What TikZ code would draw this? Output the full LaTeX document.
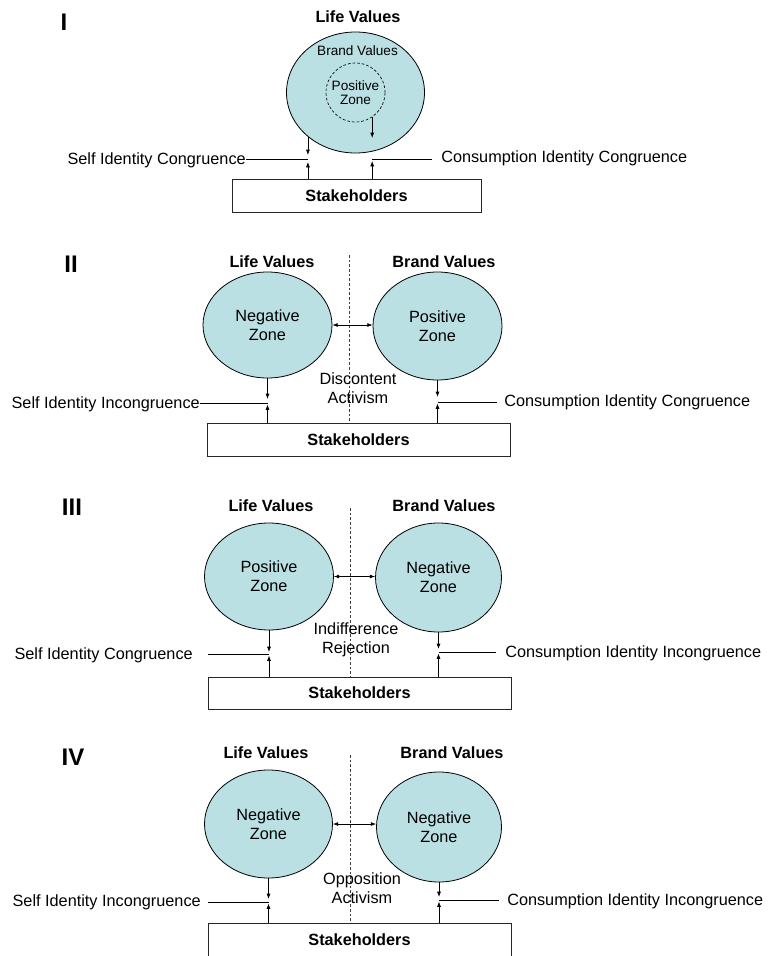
\documentclass[tikz,border=0pt]{standalone}
\usepackage{fontspec}
\setmainfont{Liberation Sans}
\usetikzlibrary{shapes.geometric,arrows.meta,calc}
\definecolor{zonefill}{RGB}{186,224,227}
\newcommand\pxl{0.75pt}
\begin{document}
\begin{tikzpicture}[x=0.75pt,y=-0.75pt,
  lab/.style={font=\fontsize{12.2}{14.4}\selectfont, inner sep=0pt, text height=8.7pt, text depth=0pt},
  small/.style={font=\fontsize{10.2}{10}\selectfont, inner sep=0pt, text height=7.3pt, text depth=0pt},
  hdr/.style={font=\bfseries\fontsize{12.2}{14.4}\selectfont, inner sep=0pt, text height=8.7pt, text depth=0pt},
  num/.style={font=\bfseries\fontsize{18}{20}\selectfont, inner sep=0pt, text height=12.9pt, text depth=0pt},
  two/.style={font=\fontsize{12.2}{14.4}\selectfont, align=center, inner sep=0pt},
  zone/.style={ellipse, draw=black, line width=0.6pt, fill=zonefill, inner sep=0pt, font=\fontsize{12.2}{14.4}\selectfont, align=center},
  box/.style={draw=black!85, line width=0.6pt, inner sep=0pt, font=\bfseries\fontsize{12.2}{14.4}\selectfont},
  arr/.style={-{Latex[length=4pt,width=3pt]}, line width=0.5pt},
  darr/.style={{Latex[length=4pt,width=3pt]}-{Latex[length=4pt,width=3pt]}, line width=0.5pt},
  ln/.style={line width=0.5pt},
  divider/.style={line width=0.5pt, dash pattern=on 2pt off 1.5pt, black!75}
]
\useasboundingbox (0,0) rectangle (767,956);

% ---------------- Panel I ----------------
\node[num] (n1) at (64,22) {I};
\node[hdr] (lv1) at (358,17) {Life Values};
\node[zone, minimum width=138*\pxl, minimum height=121*\pxl] (E1) at (355.5,92.5) {};
\node[small] (bv1) at (357.5,51) {Brand Values};
\node[circle, draw=black, line width=0.5pt, dash pattern=on 2pt off 1.5pt, minimum size=59*\pxl,
      inner sep=0pt, align=center, font=\fontsize{10.2}{10}\selectfont] (P1) at (355.5,92.5) {Positive\\Zone};
\node[box, minimum width=249*\pxl, minimum height=33*\pxl] (B1) at (356.5,195.5) {Stakeholders};
\coordinate (a1l) at (0,155);
\coordinate (u1l) at (0,162);
\coordinate (a1r) at (0,138);
\coordinate (u1r) at (0,161);
\draw[arr] (E1.223) -- (E1.223 |- a1l);
\draw[arr] (B1.north -| E1.223) -- (E1.223 |- u1l);
\draw[arr] (P1.-56) -- (P1.-56 |- a1r);
\draw[arr] (B1.north -| P1.-56) -- (P1.-56 |- u1r);
\node[lab, anchor=east] (s1) at (246,159) {Self Identity Congruence};
\draw[ln] (s1.east) -- (s1.east -| E1.223);
\node[lab, anchor=west] (c1) at (441,157) {Consumption Identity Congruence};
\coordinate (c1e) at (432,159);
\draw[ln] (c1e) -- (c1e -| P1.-56);

% ---------------- Panel II ----------------
\node[num] (n2) at (71,264) {II};
\node[hdr] (lv2) at (272,262) {Life Values};
\node[hdr] (bv2) at (444,262) {Brand Values};
\node[zone, minimum width=129*\pxl, minimum height=106*\pxl] (L2) at (267.5,325) {Negative\\Zone};
\node[zone, minimum width=129*\pxl, minimum height=108*\pxl] (R2) at (437.5,326) {Positive\\Zone};
\node[box, minimum width=303*\pxl, minimum height=33*\pxl] (B2) at (358.5,439.5) {Stakeholders};
\coordinate (d2t) at (349,255);
\draw[divider] (d2t) -- (d2t |- B2.north);
\draw[darr] (L2.east) -- (L2.east -| R2.west);
\node[two] (m2) at (358,388) {Discontent\\Activism};
\coordinate (a2l) at (0,399);
\coordinate (u2l) at (0,404.5);
\coordinate (a2r) at (0,397);
\coordinate (u2r) at (0,403.5);
\draw[arr] (L2.south) -- (L2.south |- a2l);
\draw[arr] (B2.north -| L2.south) -- (L2.south |- u2l);
\draw[arr] (R2.south) -- (R2.south |- a2r);
\draw[arr] (B2.north -| R2.south) -- (R2.south |- u2r);
\node[lab, anchor=east] (s2) at (200,403) {Self Identity Incongruence};
\draw[ln] (s2.east) -- (s2.east -| L2.south);
\node[lab, anchor=west] (c2) at (504,401) {Consumption Identity Congruence};
\coordinate (c2e) at (497,402);
\draw[ln] (c2e) -- (c2e -| R2.south);

% ---------------- Panel III ----------------
\node[num] (n3) at (72,507) {III};
\node[hdr] (lv3) at (271,506) {Life Values};
\node[hdr] (bv3) at (444,506) {Brand Values};
\node[zone, minimum width=129*\pxl, minimum height=107*\pxl] (L3) at (269,576.5) {Positive\\Zone};
\node[zone, minimum width=126*\pxl, minimum height=109*\pxl] (R3) at (438.5,577.5) {Negative\\Zone};
\node[box, minimum width=303*\pxl, minimum height=32*\pxl] (B3) at (359.5,693) {Stakeholders};
\coordinate (d3t) at (350,508);
\draw[divider] (d3t) -- (d3t |- B3.north);
\draw[darr] (L3.east) -- (L3.east -| R3.west);
\node[two] (m3) at (356,640) {Indifference\\Rejection};
\coordinate (a3l) at (0,652);
\coordinate (u3l) at (0,655.5);
\coordinate (a3r) at (0,649);
\coordinate (u3r) at (0,653.5);
\draw[arr] (L3.south) -- (L3.south |- a3l);
\draw[arr] (B3.north -| L3.south) -- (L3.south |- u3l);
\draw[arr] (R3.south) -- (R3.south |- a3r);
\draw[arr] (B3.north -| R3.south) -- (R3.south |- u3r);
\node[lab, anchor=east] (s3) at (193,654) {Self Identity Congruence};
\coordinate (s3e) at (208,654);
\draw[ln] (s3e) -- (s3e -| L3.south);
\node[lab, anchor=west] (c3) at (505,652) {Consumption Identity Incongruence};
\coordinate (c3e) at (496,652);
\draw[ln] (c3e) -- (c3e -| R3.south);

% ---------------- Panel IV ----------------
\node[num] (n4) at (73,757) {IV};
\node[hdr] (lv4) at (266,753) {Life Values};
\node[hdr] (bv4) at (452,753) {Brand Values};
\node[zone, minimum width=128*\pxl, minimum height=108*\pxl] (L4) at (268.5,824) {Negative\\Zone};
\node[zone, minimum width=125*\pxl, minimum height=110*\pxl] (R4) at (439,827) {Negative\\Zone};
\node[box, minimum width=303*\pxl, minimum height=34*\pxl] (B4) at (359.5,940) {Stakeholders};
\coordinate (d4t) at (350.6,755);
\draw[divider] (d4t) -- (d4t |- B4.north);
\draw[darr] (L4.east) -- (L4.east -| R4.west);
\node[two] (m4) at (362,888) {Opposition\\Activism};
\coordinate (a4l) at (0,899);
\coordinate (u4l) at (0,903.5);
\coordinate (a4r) at (0,897);
\coordinate (u4r) at (0,901.5);
\draw[arr] (L4.south) -- (L4.south |- a4l);
\draw[arr] (B4.north -| L4.south) -- (L4.south |- u4l);
\draw[arr] (R4.south) -- (R4.south |- a4r);
\draw[arr] (B4.north -| R4.south) -- (R4.south |- u4r);
\node[lab, anchor=east] (s4) at (201,901) {Self Identity Incongruence};
\coordinate (s4e) at (208,902);
\draw[ln] (s4e) -- (s4e -| L4.south);
\node[lab, anchor=west] (c4) at (507,900) {Consumption Identity Incongruence};
\coordinate (c4e) at (499,900);
\draw[ln] (c4e) -- (c4e -| R4.south);
\end{tikzpicture}
\end{document}
